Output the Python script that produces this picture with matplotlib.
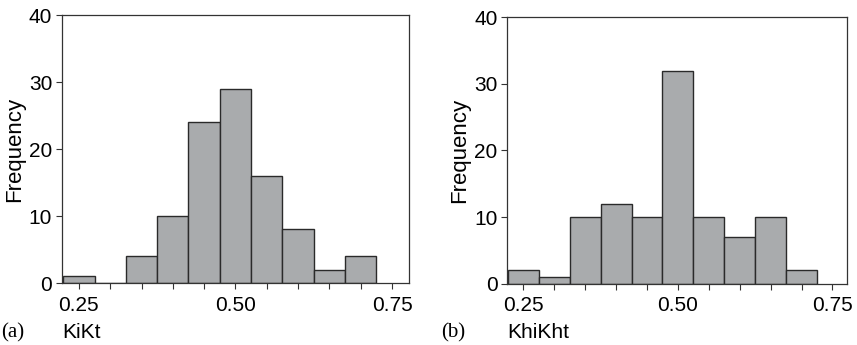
import matplotlib.pyplot as plt
import numpy as np

# centres des classes (largeur 0.05) e frequencias
centros = np.array([0.25, 0.30, 0.35, 0.40, 0.45, 0.50, 0.55, 0.60, 0.65, 0.70])
freq_kikt = np.array([1, 0, 4, 10, 24, 29, 16, 8, 2, 4])
freq_khikht = np.array([2, 1, 10, 12, 10, 32, 10, 7, 10, 2])
largura = 0.05

yticks = [0, 10, 20, 30, 40]
xticks_lab = [0.25, 0.50, 0.75]

plt.rcParams['font.family'] = ['Liberation Sans', 'DejaVu Sans']

fig = plt.figure(figsize=(8.57, 3.45), dpi=100)
ax1 = fig.add_axes([0.0723, 0.1797, 0.4049, 0.7768])
ax2 = fig.add_axes([0.592, 0.1777, 0.3967, 0.7722])


def desenha(ax, freq, xlim):
    ax.bar(centros, freq, width=largura, color='#a9abad', edgecolor='#2a2a2a',
           linewidth=1.0, align='center')
    ax.set_xlim(*xlim)
    ax.set_ylim(0, 40)
    ax.set_yticks(yticks)
    ax.set_xticks(xticks_lab)
    ax.set_xticklabels(['0.25', '0.50', '0.75'])
    ax.set_xticks(np.arange(0.25, 0.751, 0.05), minor=True)
    ax.tick_params(axis='both', which='major', labelsize=15, length=4,
                   width=0.8, color='#333333', pad=3)
    ax.tick_params(axis='x', which='major', pad=5)
    ax.tick_params(axis='x', which='minor', length=4, width=0.8, color='#333333')
    for s in ax.spines.values():
        s.set_color('#333333')
        s.set_linewidth(0.9)
    ax.set_ylabel('Frequency', fontsize=16, labelpad=3)


desenha(ax1, freq_kikt, (0.223, 0.777))
desenha(ax2, freq_khikht, (0.224, 0.774))

fig.text(0.001, 0.035, '(a)', family='Liberation Serif', fontsize=15, va='center')
fig.text(0.0723, 0.035, 'KiKt', fontsize=15, va='center')
fig.text(0.515, 0.035, '(b)', family='Liberation Serif', fontsize=15, va='center')
fig.text(0.592, 0.035, 'KhiKht', fontsize=15, va='center')

fig.savefig('out.png', dpi=100)
